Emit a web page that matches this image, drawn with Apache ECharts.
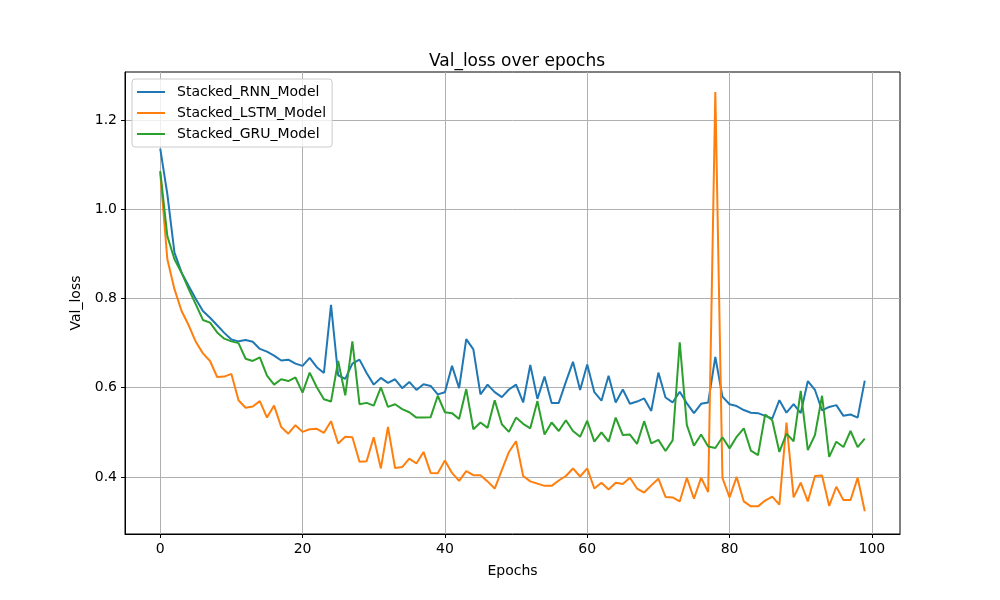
<!DOCTYPE html>
<html>
<head>
<meta charset="utf-8">
<script src="https://cdn.jsdelivr.net/npm/echarts@6/dist/echarts.min.js"></script>
<style>
  html, body { margin: 0; padding: 0; background: #fff; }
  #chart { width: 1000px; height: 600px; }
</style>
</head>
<body>
<div id="chart"></div>
<script>
const seriesNames = ['Stacked_RNN_Model', 'Stacked_LSTM_Model', 'Stacked_GRU_Model'];
const xTicks = [0, 20, 40, 60, 80, 100];
const yTicks = [0.4, 0.6, 0.8, 1.0, 1.2];

// val_loss per epoch
const rnnLoss = [
  1.136, 1.034, 0.903, 0.858, 0.828, 0.799, 0.772, 0.757, 0.740, 0.723,
  0.708, 0.704, 0.707, 0.703, 0.687, 0.681, 0.672, 0.661, 0.663, 0.654,
  0.649, 0.667, 0.646, 0.633, 0.786, 0.628, 0.620, 0.654, 0.663, 0.633,
  0.607, 0.622, 0.611, 0.619, 0.599, 0.613, 0.595, 0.608, 0.604, 0.585,
  0.590, 0.649, 0.599, 0.709, 0.686, 0.585, 0.607, 0.590, 0.579, 0.596,
  0.607, 0.567, 0.651, 0.575, 0.625, 0.566, 0.566, 0.613, 0.658, 0.595,
  0.652, 0.590, 0.571, 0.627, 0.567, 0.596, 0.564, 0.569, 0.576, 0.548,
  0.634, 0.578, 0.567, 0.591, 0.565, 0.543, 0.564, 0.567, 0.669, 0.580,
  0.563, 0.559, 0.550, 0.544, 0.543, 0.537, 0.531, 0.572, 0.544, 0.563,
  0.543, 0.615, 0.595, 0.549, 0.557, 0.561, 0.537, 0.540, 0.533, 0.616
];
const lstmLoss = [
  1.082, 0.888, 0.821, 0.772, 0.740, 0.703, 0.677, 0.660, 0.624, 0.625,
  0.631, 0.572, 0.555, 0.558, 0.570, 0.533, 0.560, 0.512, 0.497, 0.516,
  0.501, 0.507, 0.508, 0.499, 0.525, 0.475, 0.490, 0.489, 0.434, 0.435,
  0.489, 0.419, 0.512, 0.420, 0.422, 0.441, 0.430, 0.456, 0.409, 0.408,
  0.437, 0.409, 0.391, 0.413, 0.404, 0.404, 0.390, 0.374, 0.415, 0.456,
  0.480, 0.402, 0.390, 0.385, 0.380, 0.380, 0.392, 0.402, 0.419, 0.401,
  0.419, 0.374, 0.387, 0.372, 0.387, 0.384, 0.398, 0.374, 0.365, 0.381,
  0.396, 0.355, 0.354, 0.345, 0.398, 0.351, 0.398, 0.366, 1.263, 0.398,
  0.354, 0.400, 0.345, 0.334, 0.334, 0.347, 0.356, 0.338, 0.522, 0.354,
  0.387, 0.345, 0.402, 0.403, 0.335, 0.378, 0.348, 0.348, 0.398, 0.323
];
const gruLoss = [
  1.086, 0.940, 0.888, 0.858, 0.821, 0.787, 0.752, 0.746, 0.724, 0.710,
  0.704, 0.700, 0.665, 0.660, 0.668, 0.627, 0.607, 0.619, 0.615, 0.623,
  0.589, 0.634, 0.601, 0.574, 0.569, 0.660, 0.583, 0.704, 0.563, 0.566,
  0.560, 0.601, 0.557, 0.563, 0.552, 0.545, 0.533, 0.533, 0.534, 0.582,
  0.545, 0.543, 0.530, 0.597, 0.507, 0.522, 0.510, 0.572, 0.518, 0.501,
  0.533, 0.519, 0.509, 0.570, 0.495, 0.522, 0.503, 0.527, 0.503, 0.490,
  0.526, 0.479, 0.500, 0.479, 0.533, 0.494, 0.495, 0.474, 0.525, 0.475,
  0.483, 0.458, 0.482, 0.702, 0.516, 0.470, 0.495, 0.468, 0.465, 0.489,
  0.464, 0.490, 0.509, 0.459, 0.449, 0.540, 0.527, 0.456, 0.497, 0.480,
  0.593, 0.460, 0.494, 0.582, 0.445, 0.479, 0.467, 0.503, 0.467, 0.486
];

const colors = ['#1f77b4', '#ff7f0e', '#2ca02c'];
const font = 'DejaVu Sans';

const chart = echarts.init(document.getElementById('chart'));

const makeSeries = (name, values, color) => ({
  name: name,
  type: 'line',
  data: values.map((v, i) => [i, v]),
  showSymbol: false,
  symbol: 'none',
  lineStyle: { color: color, width: 2 },
  itemStyle: { color: color },
  z: 3
});

chart.setOption({
  animation: false,
  backgroundColor: '#fff',
  title: {
    text: 'Val_loss over epochs',
    left: 512,
    textAlign: 'center',
    top: 48,
    textStyle: { fontFamily: font, fontSize: 17, fontWeight: 'normal', color: '#000' }
  },
  legend: {
    orient: 'vertical',
    left: 132,
    top: 79,
    padding: [6, 6, 6, 5],
    itemGap: 7,
    itemWidth: 28,
    itemHeight: 2,
    icon: 'rect',
    borderColor: '#cccccc',
    borderWidth: 1,
    borderRadius: 3,
    backgroundColor: 'rgba(255,255,255,0.8)',
    textStyle: { fontFamily: font, fontSize: 14, color: '#000', padding: [0, 0, 0, 7] },
    data: seriesNames
  },
  // the grid border gives the four spines
  grid: {
    left: 125, right: 100, top: 72, bottom: 66, containLabel: false,
    show: true, borderColor: '#000', borderWidth: 1, backgroundColor: 'transparent'
  },
  xAxis: {
    type: 'value',
    min: -4.95,
    max: 103.95,
    name: 'Epochs',
    nameLocation: 'middle',
    nameGap: 30,
    nameTextStyle: { fontFamily: font, fontSize: 14, color: '#000' },
    axisLine: { show: true, onZero: false, lineStyle: { color: '#000', width: 1 } },
    axisTick: { show: true, length: 4, customValues: xTicks, lineStyle: { color: '#000' } },
    axisLabel: { customValues: xTicks, margin: 8, fontFamily: font, fontSize: 14, color: '#000' },
    splitLine: { show: true, lineStyle: { color: '#b0b0b0', width: 1 } }
  },
  yAxis: {
    type: 'value',
    min: 0.272,
    max: 1.308,
    name: 'Val_loss',
    nameLocation: 'middle',
    nameGap: 38,
    nameTextStyle: { fontFamily: font, fontSize: 14, color: '#000' },
    axisLine: { show: true, onZero: false, lineStyle: { color: '#000', width: 1 } },
    axisTick: { show: true, length: 4, customValues: yTicks, lineStyle: { color: '#000' } },
    axisLabel: {
      customValues: yTicks, margin: 8, fontFamily: font, fontSize: 14, color: '#000',
      formatter: (v) => v.toFixed(1)
    },
    splitLine: { show: true, lineStyle: { color: '#b0b0b0', width: 1 } }
  },
  series: [
    makeSeries(seriesNames[0], rnnLoss, colors[0]),
    makeSeries(seriesNames[1], lstmLoss, colors[1]),
    makeSeries(seriesNames[2], gruLoss, colors[2])
  ]
});
</script>
</body>
</html>
